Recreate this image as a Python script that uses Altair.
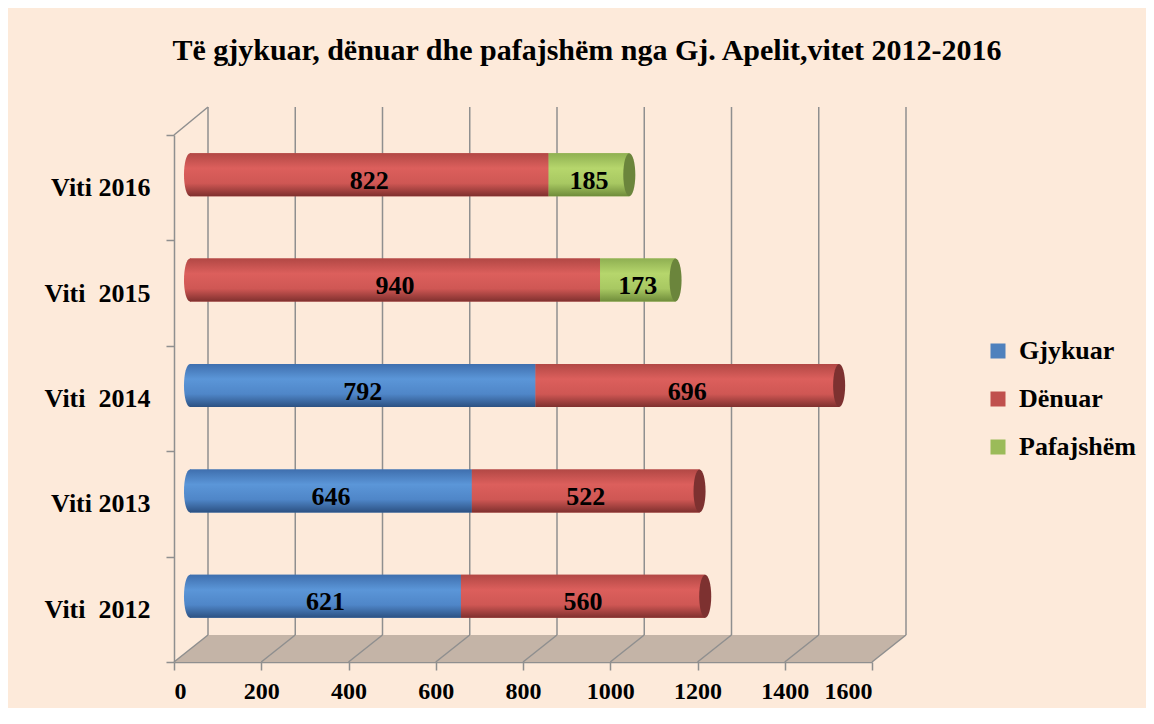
import altair as alt
import pandas as pd

# ---------------- data ----------------
years = ["Viti \u00a02012", "Viti 2013", "Viti \u00a02014", "Viti \u00a02015", "Viti 2016"]
series = ["Gjykuar", "Dënuar", "Pafajshëm"]
gjykuar = [621, 646, 792, None, None]
denuar = [560, 522, 696, 940, 822]
pafajshem = [None, None, None, 173, 185]
x_ticks = [0, 200, 400, 600, 800, 1000, 1200, 1400, 1600]
title_text = "Të gjykuar, dënuar dhe pafajshëm nga Gj. Apelit,vitet 2012-2016"

rows = []
for i, yr in enumerate(years):
    for k, (name, vals) in enumerate(zip(series, [gjykuar, denuar, pafajshem])):
        v = vals[i]
        if v is not None:
            rows.append({"year": yr, "series": name, "value": v, "order": k})
df = pd.DataFrame(rows)

# ---------------- styling ----------------
PLOT_W, PLOT_H = 698, 527
DEPTH_X, DEPTH_Y, WALL_TOP = 34, 27, -28
BAR_DX, BAR_DY, BAR_H = 16, -13, 43
FONT = "Liberation Serif"
GRID = "#8f8f8f"
BG = "#FDEADA"
FLOOR = "#C4B4A7"
flat = ["#4F81BD", "#C0504D", "#9BBB59"]
grad_stops = {
    "Gjykuar": ["#3f6fae", "#5b96d8", "#4f86c8", "#2c5182"],
    "Dënuar": ["#b24845", "#dc5f5c", "#cf5754", "#7f302e"],
    "Pafajshëm": ["#8fb052", "#b6d66c", "#a8c862", "#6f8c3a"],
}
cap_color = {"Gjykuar": "#2d4f7e", "Dënuar": "#7d3130", "Pafajshëm": "#6b853c"}
ELL = "M0,-1A0.28,1,0,1,1,0,1A0.28,1,0,1,1,0,-1Z"


def grad(s):
    c = grad_stops[s]
    return alt.Gradient(
        gradient="linear",
        stops=[
            alt.GradientStop(color=c[0], offset=0),
            alt.GradientStop(color=c[1], offset=0.35),
            alt.GradientStop(color=c[2], offset=0.7),
            alt.GradientStop(color=c[3], offset=1),
        ],
        x1=0, x2=0, y1=0, y2=1,
    )


xscale = alt.Scale(domain=[0, 1600], nice=False, zero=True)
xaxis = alt.Axis(
    values=x_ticks, title=None, grid=False, labelFont=FONT, labelFontSize=24,
    labelFontWeight="bold", labelColor="black", domainColor=GRID, domainWidth=1.5,
    tickColor=GRID, tickWidth=1.5, tickSize=8, labelPadding=9, format="d",
)
yaxis = alt.Axis(
    title=None, labelFont=FONT, labelFontSize=26, labelFontWeight="bold",
    labelColor="black", domainColor=GRID, domainWidth=1.5, tickColor=GRID,
    tickWidth=1.5, tickSize=8, tickBand="extent", labelPadding=16, grid=False,
)
yscale = alt.Scale(domain=years[::-1], paddingInner=0, paddingOuter=0)


def X(field):
    return alt.X(field, type="quantitative", scale=xscale, axis=xaxis)


Y = alt.Y("year:N", scale=yscale, axis=yaxis, sort=years[::-1])

base = (
    alt.Chart(df)
    .transform_stack(stack="value", groupby=["year"], as_=["x0", "x1"],
                     sort=[alt.SortField("order", order="ascending")])
    .transform_joinaggregate(total="sum(value)", groupby=["year"])
    .transform_calculate(mid="(datum.x0 + datum.x1) / 2")
)

tick_df = pd.DataFrame({"t": x_ticks})

# back-wall grid lines
back_grid = alt.Chart(tick_df).mark_rule(color=GRID, strokeWidth=1.5, xOffset=DEPTH_X).encode(
    x=X("t"), y=alt.value(WALL_TOP), y2=alt.value(PLOT_H - DEPTH_Y)
)

# floor
D = DEPTH_X * 1600 / PLOT_W
floor_df = pd.DataFrame({
    "fx": [0, D, 1600, 1600 + D],
    "py": [PLOT_H, PLOT_H - DEPTH_Y, PLOT_H - DEPTH_Y, PLOT_H - DEPTH_Y],
    "py2": [PLOT_H, PLOT_H, PLOT_H, PLOT_H - DEPTH_Y],
})
floor = alt.Chart(floor_df).mark_area(color=FLOOR, opacity=1).encode(
    x=X("fx"), y=alt.Y("py:Q", scale=None, axis=None), y2="py2:Q"
)
floor_diag = alt.Chart(tick_df).mark_rule(color=GRID, strokeWidth=1.5, x2Offset=DEPTH_X).encode(
    x=X("t"), x2="t:Q", y=alt.value(PLOT_H), y2=alt.value(PLOT_H - DEPTH_Y)
)
wall_diag = alt.Chart(pd.DataFrame({"t": [0]})).mark_rule(
    color=GRID, strokeWidth=1.5, x2Offset=DEPTH_X
).encode(x=X("t"), x2="t:Q", y=alt.value(0), y2=alt.value(WALL_TOP))

# legend carrier bars (flat colours, covered by gradient bars)
legend_bars = base.mark_bar(size=BAR_H, xOffset=BAR_DX, x2Offset=BAR_DX, yOffset=BAR_DY).encode(
    x=X("x0"), x2="x1:Q", y=Y,
    color=alt.Color(
        "series:N", scale=alt.Scale(domain=series, range=flat),
        legend=alt.Legend(
            title=None, orient="none", legendX=811, legendY=203, symbolType="square",
            symbolSize=225, symbolStrokeWidth=0, symbolOpacity=1, labelFont=FONT,
            labelFontSize=26, labelFontWeight="bold", labelColor="black",
            rowPadding=22, labelOffset=8, padding=0,
        ),
    ),
)

left_caps, bars, right_caps = [], [], []
for s in series:
    left_caps.append(
        base.transform_filter(f"datum.series == '{s}' && datum.x0 == 0")
        .mark_point(shape=ELL, size=BAR_H * BAR_H, filled=True, color=grad(s), opacity=1,
                    strokeWidth=0, xOffset=BAR_DX, yOffset=BAR_DY)
        .encode(x=X("x0"), y=Y)
    )
    bars.append(
        base.transform_filter(f"datum.series == '{s}'")
        .mark_bar(size=BAR_H, color=grad(s), xOffset=BAR_DX, x2Offset=BAR_DX, yOffset=BAR_DY)
        .encode(x=X("x0"), x2="x1:Q", y=Y)
    )
    right_caps.append(
        base.transform_filter(f"datum.series == '{s}' && datum.x1 == datum.total")
        .mark_point(shape=ELL, size=BAR_H * BAR_H, filled=True, color=cap_color[s], opacity=1,
                    strokeWidth=0, xOffset=BAR_DX, yOffset=BAR_DY)
        .encode(x=X("x1"), y=Y)
    )

labels = base.mark_text(
    font=FONT, fontSize=26, fontWeight="bold", color="black", baseline="middle",
    align="center", xOffset=BAR_DX, yOffset=-7,
).encode(x=X("mid"), y=Y, text="value:Q")

chart = alt.layer(
    back_grid, floor, floor_diag, wall_diag, legend_bars,
    *left_caps, *bars, *right_caps, labels,
).properties(
    width=PLOT_W, height=PLOT_H,
    autosize=alt.AutoSizeParams(type="none"),
    padding={"left": 166, "top": 127, "right": 274, "bottom": 46},
    background=BG,
    title=alt.TitleParams(
        text=title_text, font=FONT, fontSize=30, fontWeight="bold", color="black",
        anchor="middle", dx=64, offset=40,
    ),
).configure_view(stroke=None)

chart.save("out.html", embed_options={"renderer": "svg", "actions": False})
